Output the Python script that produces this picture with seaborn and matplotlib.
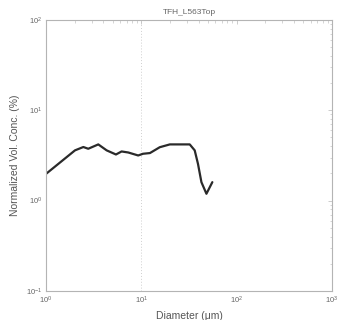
import matplotlib
matplotlib.use("Agg")
import matplotlib.pyplot as plt
import seaborn as sns
import pandas as pd
from matplotlib.ticker import LogLocator, NullFormatter

# Particle size distribution, sample TFH_L563Top
diameter_um = [1.0, 2.01, 2.46, 2.77, 3.53, 4.32, 5.41, 6.2, 7.28, 9.26, 10.4,
               12.3, 15.6, 19.9, 25.3, 32.2, 36.3, 39.3, 42.7, 48.2, 55.6]
vol_conc_pct = [1.98, 3.6, 3.92, 3.75, 4.19, 3.6, 3.24, 3.5, 3.41, 3.16, 3.3,
                3.36, 3.9, 4.19, 4.19, 4.19, 3.6, 2.55, 1.6, 1.19, 1.6]
title = "TFH_L563Top"

df = pd.DataFrame({"d": diameter_um, "v": vol_conc_pct})

sns.set_style("white")
plt.rcParams["font.family"] = ["Liberation Sans", "DejaVu Sans"]

fig = plt.figure(figsize=(3.39, 3.2), dpi=100)
ax = fig.add_axes([0.136, 0.091, 0.843, 0.8465])

sns.lineplot(data=df, x="d", y="v", ax=ax, color="#2a2a2a", linewidth=1.6,
             sort=False, estimator=None)

ax.set_xscale("log")
ax.set_yscale("log")
ax.set_xlim(1, 1000)
ax.set_ylim(0.1, 100)

ax.axvline(10, color="#cfcfcf", linestyle=(0, (1, 2)), linewidth=0.7, zorder=0)

for side in ax.spines.values():
    side.set_color("#b4b4b4")
    side.set_linewidth(0.8)

ax.xaxis.set_major_locator(LogLocator(base=10, numticks=10))
ax.yaxis.set_major_locator(LogLocator(base=10, numticks=10))
ax.xaxis.set_minor_locator(LogLocator(base=10, subs=range(2, 10), numticks=20))
ax.yaxis.set_minor_locator(LogLocator(base=10, subs=range(2, 10), numticks=20))
ax.xaxis.set_minor_formatter(NullFormatter())
ax.yaxis.set_minor_formatter(NullFormatter())

ax.tick_params(which="both", direction="in", top=True, right=True,
               color="#c4c4c4", labelcolor="#666666", labelsize=5.5, pad=3)
ax.tick_params(which="major", length=3, width=0.6)
ax.tick_params(which="minor", length=1.8, width=0.5)

ax.set_xlabel("Diameter (\u03bcm)", fontsize=7.5, color="#555555", labelpad=3)
ax.set_ylabel("Normalized Vol. Conc. (%)", fontsize=7.5, color="#555555", labelpad=4)
ax.set_title(title, fontsize=6, color="#666666", pad=4)

fig.savefig("out.png", dpi=100)
